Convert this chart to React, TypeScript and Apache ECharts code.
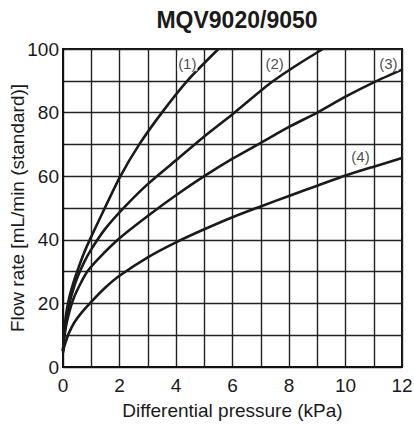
import React, { useEffect, useRef } from "react";
import * as echarts from "echarts";

const TITLE = "MQV9020/9050";
const X_NAME = "Differential pressure (kPa)";
const Y_NAME = "Flow rate [mL/min (standard)]";

// [pressure kPa, flow mL/min]
const curve1: number[][] = [
  [0, 5], [0.03, 10], [0.1, 16], [0.2, 21], [0.35, 26], [0.5, 30],
  [0.75, 36], [1.0, 41], [1.4, 48.5], [2.0, 59.5], [2.7, 70], [3.5, 80],
  [4.4, 90], [5.5, 100],
];
const curve2: number[][] = [
  [0, 5], [0.03, 9], [0.1, 14], [0.2, 19], [0.35, 24], [0.5, 28],
  [0.75, 33], [1.0, 37], [1.5, 43.5], [2.2, 50.5], [3.0, 57.5], [4.0, 65],
  [5.0, 72.5], [6.0, 79.5], [7.3, 89], [8.2, 94.5], [9.2, 100],
];
const curve3: number[][] = [
  [0, 5], [0.03, 8], [0.1, 12.5], [0.2, 16.5], [0.35, 21], [0.55, 25],
  [0.86, 30], [1.3, 34.5], [2.0, 40.5], [3.0, 47.5], [4.0, 54], [5.0, 60],
  [6.0, 65.5], [7.0, 70.5], [8.0, 75.5], [9.0, 80], [10.0, 85], [11.0, 89.5],
  [12, 93.5],
];
const curve4: number[][] = [
  [0, 4.5], [0.03, 6], [0.1, 8], [0.2, 10.5], [0.4, 14], [0.65, 17],
  [1.0, 20.5], [1.5, 25], [2.0, 28.7], [3.0, 34.5], [4.0, 39.2], [5.0, 43.3],
  [6.0, 47.1], [7.0, 50.5], [8.0, 53.8], [9.0, 57], [10.0, 60.2], [11.0, 63],
  [12, 65.7],
];

const curveLabels = ["(1)", "(2)", "(3)", "(4)"];
const labelPositions: number[][] = [
  [4.4, 95.4], [7.49, 95.4], [11.52, 95.4], [10.53, 66.2],
];

const FONT = "Liberation Sans, Arial, sans-serif";

export default function App() {
  const ref = useRef<HTMLDivElement>(null);
  useEffect(() => {
    if (!ref.current) return;
    const chart = echarts.init(ref.current, null, { renderer: "svg" });
    const lineStyle = { color: "#1a1a1a", width: 2.6 };
    const mkLine = (data: number[][]) => ({
      type: "line",
      data,
      smooth: 0.25,
      showSymbol: false,
      symbol: "none",
      lineStyle,
      z: 5,
    });
    chart.setOption({
      animation: false,
      backgroundColor: "#ffffff",
      title: {
        text: TITLE,
        left: 232,
        top: 3,
        textAlign: "center",
        textStyle: { fontFamily: FONT, fontSize: 23, fontWeight: "bold", color: "#1a1a1a" },
      },
      grid: {
        left: 63,
        right: 12,
        top: 49,
        bottom: 60,
        containLabel: false,
        outerBoundsMode: "none",
        show: true,
        borderColor: "#111",
        borderWidth: 2,
        backgroundColor: "transparent",
      },
      xAxis: {
        type: "value",
        min: 0,
        max: 12,
        interval: 1,
        name: X_NAME,
        nameLocation: "middle",
        nameGap: 34,
        nameTextStyle: { fontFamily: FONT, fontSize: 19, color: "#1a1a1a" },
        axisLine: { show: true, lineStyle: { color: "#111", width: 2 } },
        axisTick: { show: false },
        axisLabel: {
          fontFamily: FONT,
          fontSize: 19,
          color: "#1a1a1a",
          margin: 9,
          formatter: (v: number) => (v % 2 === 0 ? String(v) : ""),
        },
        splitLine: { show: true, lineStyle: { color: "#222", width: 1.4 } },
      },
      yAxis: {
        type: "value",
        min: 0,
        max: 100,
        interval: 10,
        name: Y_NAME,
        nameLocation: "middle",
        nameGap: 36,
        nameMoveOverlap: false,
        nameTextStyle: { fontFamily: FONT, fontSize: 19, color: "#1a1a1a" },
        axisLine: { show: true, lineStyle: { color: "#111", width: 2 } },
        axisTick: { show: false },
        axisLabel: {
          fontFamily: FONT,
          fontSize: 19,
          color: "#1a1a1a",
          margin: 4,
          formatter: (v: number) => (v % 20 === 0 ? String(v) : ""),
        },
        splitLine: { show: true, lineStyle: { color: "#222", width: 1.4 } },
      },
      series: [
        mkLine(curve1),
        mkLine(curve2),
        mkLine(curve3),
        mkLine(curve4),
        {
          type: "scatter",
          symbolSize: 0,
          z: 6,
          data: labelPositions.map((p, i) => ({ value: [p[0], p[1]], name: curveLabels[i] })),
          label: {
            show: true,
            position: "inside",
            formatter: (p: any) => p.name,
            fontFamily: FONT,
            fontSize: 15,
            color: "#1a1a1a",
            backgroundColor: "#ffffff",
            padding: [0, 1],
          },
        },
      ],
    });
    return () => chart.dispose();
  }, []);
  return (
    <div
      ref={ref}
      style={{ position: "fixed", left: 0, top: 0, width: 414, height: 427, background: "#fff" }}
    />
  );
}
